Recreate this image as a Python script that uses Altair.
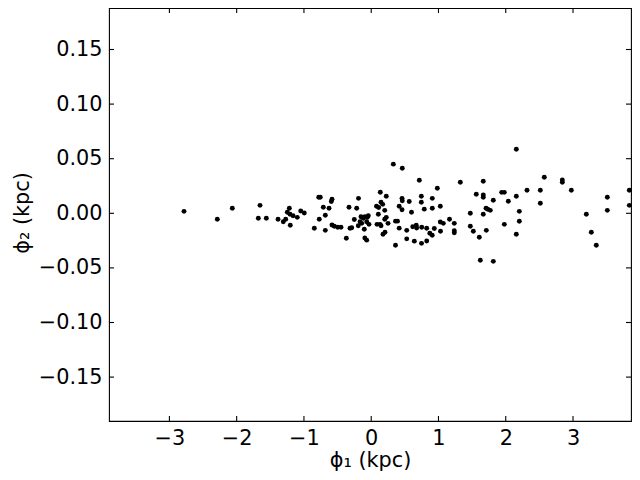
import altair as alt
import pandas as pd

phi1 = [
    -2.783, -2.288, -2.065, -1.653, -1.678, -1.559, -1.385, -1.307, -1.271, -1.203,
    -1.217, -1.247, -1.207, -1.162, -1.099, -1.048, -0.995, -0.846, -0.780, -0.757,
    -0.583, -0.593, -0.712, -0.627, -0.682, -0.772, -0.682, -0.583, -0.549, -0.498,
    -0.449, -0.330, -0.315, -0.370, -0.216, -0.189, -0.251, -0.152, -0.117, -0.092,
    -0.058, -0.043, -0.166, -0.141, -0.067, -0.033, -0.192, -0.290, -0.103, -0.095,
    -0.067, 0.079, 0.111, 0.135, 0.224, 0.146, 0.171, 0.201, 0.106, 0.224,
    0.201, 0.250, 0.086, 0.131, 0.146, 0.205, 0.175, 0.329, 0.462, 0.458,
    0.462, 0.565, 0.416, 0.458, 0.599, 0.361, 0.391, 0.416, 0.528, 0.528,
    0.617, 0.641, 0.361, 0.715, 0.745, 0.745, 0.908, 0.789, 0.908, 1.027,
    0.670, 0.676, 0.751, 0.825, 0.938, 0.871, 0.907, 1.030, 1.027, 1.072,
    1.164, 1.235, 1.235, 1.235, 0.748, 0.825, 0.983, 1.325, 1.562, 1.473,
    1.473, 1.518, 1.607, 2.157, 2.573, 1.666, 1.666, 1.666, 1.940, 1.979,
    2.316, 2.514, 2.157, 1.815, 2.038, 2.514, 1.707, 1.732, 1.770, 1.666,
    2.202, 2.202, 1.979, 1.711, 2.157, 1.622, 1.815, 2.841, 2.841, 2.975,
    3.510, 3.837, 3.510, 3.837, 3.198, 3.272, 3.346,
]
phi2 = [
    0.0018, -0.0055, 0.0046, 0.0073, -0.0046, -0.0046, -0.0055, -0.0077, -0.0055, -0.0110,
    0.0046, 0.0009, -0.0009, -0.0022, -0.0037, 0.0021, 0.0003, -0.0137, 0.0147, 0.0147,
    0.0128, 0.0108, 0.0055, 0.0046, -0.0018, -0.0055, -0.0156, -0.0107, -0.0119, -0.0128,
    -0.0128, 0.0055, -0.0137, -0.0228, 0.0046, 0.0137, -0.0057, -0.0031, -0.0046, -0.0031,
    -0.0037, -0.0022, -0.0077, -0.0092, -0.0077, -0.0101, -0.0114, -0.0132, -0.0146, -0.0226,
    -0.0246, 0.0065, 0.0053, 0.0193, 0.0156, 0.0101, 0.0082, 0.0027, -0.0009, -0.0037,
    -0.0055, -0.0092, -0.0101, -0.0101, -0.0114, -0.0174, -0.0192, 0.0450, 0.0412, 0.0137,
    0.0114, 0.0108, 0.0065, 0.0032, 0.0009, -0.0072, -0.0072, -0.0136, -0.0156, -0.0234,
    -0.0123, -0.0255, -0.0292, 0.0303, 0.0156, 0.0101, 0.0137, 0.0038, 0.0046, 0.0064,
    -0.0110, -0.0135, -0.0128, -0.0137, -0.0139, -0.0183, -0.0201, -0.0165, -0.0080, -0.0092,
    -0.0055, -0.0092, -0.0159, -0.0178, -0.0275, -0.0254, 0.0229, 0.0284, 0.0175, 0.0000,
    -0.0118, -0.0165, -0.0219, 0.0586, 0.0330, 0.0293, 0.0168, 0.0147, 0.0192, 0.0192,
    0.0211, 0.0211, 0.0156, 0.0119, 0.0110, 0.0092, 0.0046, 0.0037, 0.0027, -0.0009,
    0.0018, -0.0073, -0.0101, -0.0156, -0.0192, -0.0430, -0.0440, 0.0305, 0.0284, 0.0211,
    0.0147, 0.0211, 0.0027, 0.0073, -0.0009, -0.0174, -0.0293,
]
x_ticks = [-3, -2, -1, 0, 1, 2, 3]
y_ticks = [-0.15, -0.10, -0.05, 0.00, 0.05, 0.10, 0.15]

W, H = 522, 413
FONT = "DejaVu Sans"
FS = 20.8

xscale = alt.Scale(domain=[-3.898, 3.862], nice=False, zero=False)
yscale = alt.Scale(domain=[-0.1902, 0.188], nice=False, zero=False)

xaxis = alt.Axis(values=x_ticks, format="d", title="ϕ₁ (kpc)",
                 titleX=W / 2, titleY=39, titleBaseline="middle")
yaxis = alt.Axis(values=y_ticks, format=".2f", title="ϕ₂ (kpc)",
                 titleX=-87, titleY=H / 2 - 2, titleBaseline="middle",
                 titleAngle=-90, titleAlign="center")

pts = pd.DataFrame({"phi1": phi1, "phi2": phi2})
xt = pd.DataFrame({"phi1": x_ticks})
yt = pd.DataFrame({"phi2": y_ticks})

points = alt.Chart(pts).mark_circle(size=24, color="black", opacity=1).encode(
    x=alt.X("phi1:Q", scale=xscale, axis=xaxis),
    y=alt.Y("phi2:Q", scale=yscale, axis=yaxis),
)

tick_len = 5
bottom = alt.Chart(xt).mark_rule(color="black", strokeWidth=1.1).encode(
    x=alt.X("phi1:Q", scale=xscale, axis=xaxis),
    y=alt.value(H), y2=alt.value(H - tick_len))
top = alt.Chart(xt).mark_rule(color="black", strokeWidth=1.1).encode(
    x=alt.X("phi1:Q", scale=xscale, axis=xaxis),
    y=alt.value(0), y2=alt.value(tick_len))
left = alt.Chart(yt).mark_rule(color="black", strokeWidth=1.1).encode(
    y=alt.Y("phi2:Q", scale=yscale, axis=yaxis),
    x=alt.value(0), x2=alt.value(tick_len))
right = alt.Chart(yt).mark_rule(color="black", strokeWidth=1.1).encode(
    y=alt.Y("phi2:Q", scale=yscale, axis=yaxis),
    x=alt.value(W), x2=alt.value(W - tick_len))

chart = alt.layer(points, bottom, top, left, right).properties(
    width=W, height=H,
    autosize=alt.AutoSizeParams(type="none"),
    padding={"left": 101, "top": 0, "right": 1, "bottom": 51},
).configure_view(
    stroke="black", strokeWidth=1.1
).configure_axis(
    ticks=False, domain=False, grid=False,
    labelFont=FONT, labelFontSize=FS, labelColor="black", labelPadding=7,
    labelFlush=False, labelOverlap=False,
    titleFont=FONT, titleFontSize=FS, titleColor="black", titleFontWeight="normal",
)

chart.save("out.html", embed_options={"renderer": "svg", "actions": False})
